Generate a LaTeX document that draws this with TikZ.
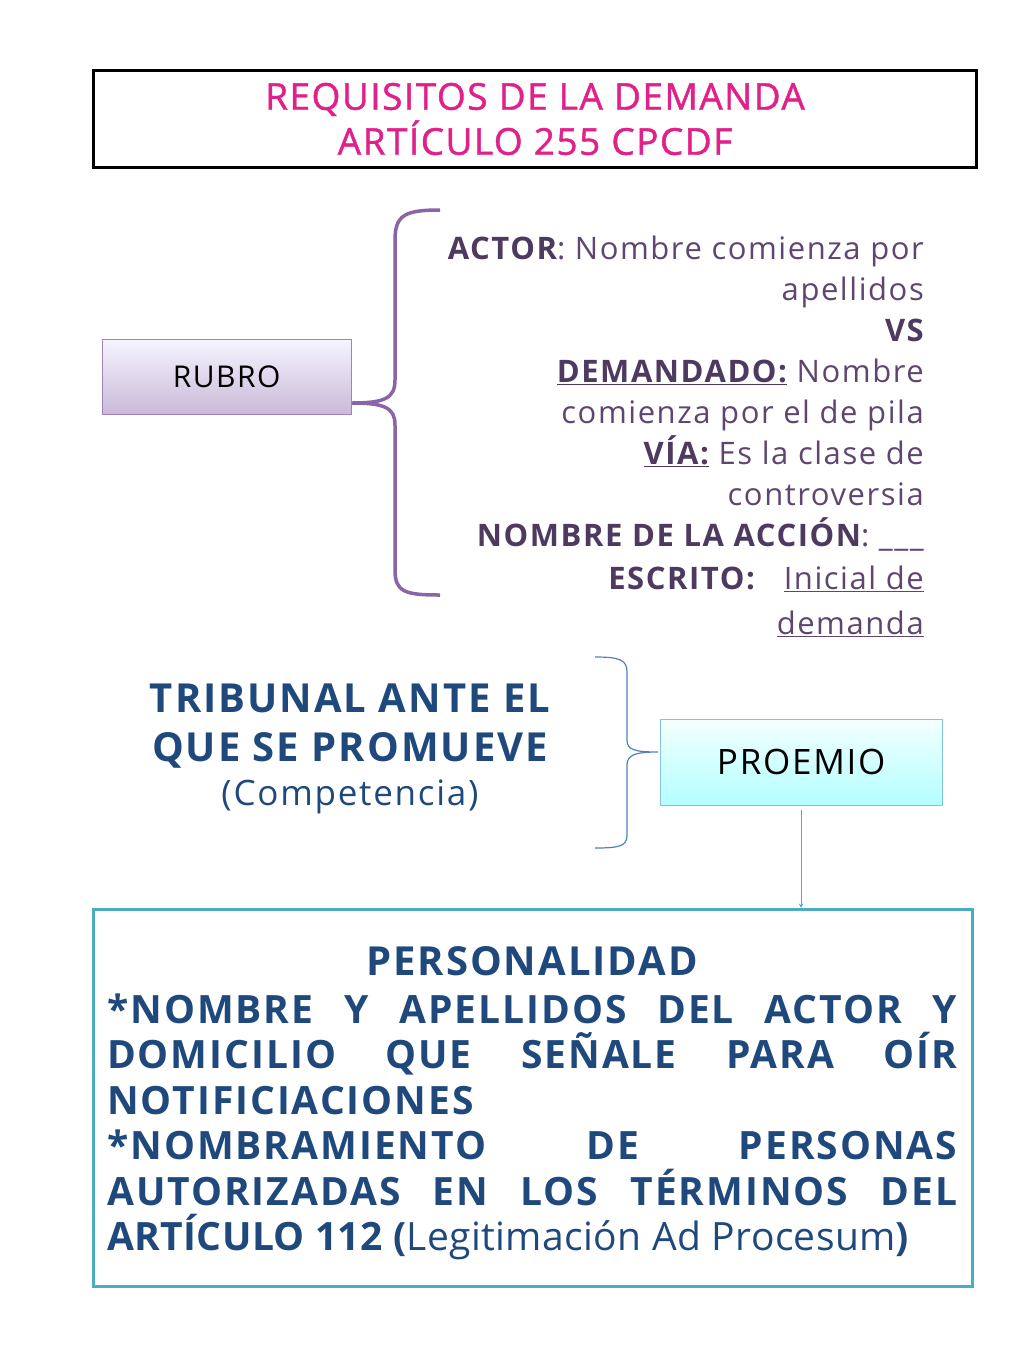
\documentclass[tikz,border=0pt]{standalone}
\usepackage{fontspec}
\setmainfont{Open Sans}[LetterSpace=5]
\newfontfamily\titlefont{Open Sans}[LetterSpace=4,FakeBold=1.2]
\definecolor{mag}{HTML}{E0218A}
\definecolor{purp}{HTML}{5E4670}
\definecolor{purpd}{HTML}{4E3A60}
\definecolor{brpurp}{HTML}{8A64A8}
\definecolor{dblue}{HTML}{1F497D}
\definecolor{lblue}{HTML}{4F81BD}
\definecolor{aqua}{HTML}{4BACC6}
\begin{document}
\begin{tikzpicture}[x=1pt,y=-1pt,
  rt/.style={anchor=base east,text=purp,font=\fontsize{31}{33}\selectfont,inner sep=0},
  bl/.style={anchor=base west,text=dblue,font=\fontsize{39}{40}\selectfont\bfseries,inner sep=0}]
\useasboundingbox (0,0) rectangle (1024,1365);
\node[draw=black,line width=3pt,minimum width=883pt,minimum height=97pt,anchor=north west,
  text=mag,align=center,font=\titlefont\fontsize{37}{45}\selectfont] (title) at (92,69)
  {REQUISITOS DE LA DEMANDA\\ARTÍCULO 255 CPCDF};
\node[draw=brpurp!80,top color=purple!5!blue!4,bottom color=brpurp!45,minimum width=249pt,minimum height=75pt,
  anchor=north west,font=\fontsize{30}{33}\selectfont] (rubro) at (102,339) {RUBRO};
\draw[brpurp,line width=3.5pt] (440,210) .. controls (405,210) and (395,215) .. (395,240) -- (395,380)
  .. controls (395,398) and (385,403) .. (352,403) .. controls (385,403) and (395,408) .. (395,425)
  -- (395,570) .. controls (395,592) and (405,595) .. (440,595);
\node[rt] (l1) at (924,259) {\textbf{\color{purpd}ACTOR}: Nombre comienza por};
\node[rt] (l2) at (924,300) {apellidos};
\node[rt] (l3) at (924,341) {\textbf{\color{purpd}VS}};
\node[rt] (l4) at (924,382) {\textbf{\color{purpd}\underline{DEMANDADO:}} Nombre};
\node[rt] (l5) at (924,423) {comienza por el de pila};
\node[rt] (l6) at (924,464) {\textbf{\color{purpd}\underline{VÍA:}} Es la clase de};
\node[rt] (l7) at (924,505) {controversia};
\node[rt] (l8) at (924,546) {\textbf{\color{purpd}NOMBRE DE LA ACCIÓN}: \_\_\_};
\node[rt] (l9) at (924,589) {\textbf{\color{purpd}ESCRITO:}\ \ \ \underline{Inicial de}};
\node[rt] (l10) at (924,634) {\underline{demanda}};
\node[text=dblue,align=center,font=\fontsize{40}{49}\selectfont\bfseries] (trib) at (350,726)
  {TRIBUNAL ANTE EL\\QUE SE PROMUEVE};
\node[text=dblue,font=\fontsize{35}{36}\selectfont] (comp) at (350,797) {(Competencia)};
\draw[lblue,line width=1.2pt] (595,657) .. controls (620,657) and (627,660) .. (627,672) -- (627,740)
  .. controls (627,750) and (635,752) .. (658,752) .. controls (635,752) and (627,755) .. (627,765)
  -- (627,835) .. controls (627,846) and (620,848) .. (595,848);
\node[draw=aqua!70,top color=cyan!4,bottom color=cyan!30,minimum width=282pt,minimum height=86pt,
  anchor=north west,font=\fontsize{35}{36}\selectfont] (proe) at (660,719) {PROEMIO};
\node[draw=aqua,line width=3pt,minimum width=879pt,minimum height=377pt,anchor=north west] (big) at (92,908) {};
\draw[aqua,line width=1pt,-stealth] (801,810) -- (big.north -| 801,810);
\node[text=dblue,font=\fontsize{40}{40}\selectfont\bfseries] (pers) at (532,961) {PERSONALIDAD};
\node[bl] (p1) at (107,1023) {\hbox to 850pt{*NOMBRE\hfill Y\hfill APELLIDOS\hfill DEL\hfill ACTOR\hfill Y}};
\node[bl] (p2) at (107,1068) {\hbox to 850pt{DOMICILIO\hfill QUE\hfill SEÑALE\hfill PARA\hfill OÍR}};
\node[bl] (p3) at (107,1114) {NOTIFICIACIONES};
\node[bl] (p4) at (107,1159) {\hbox to 850pt{*NOMBRAMIENTO\hfill DE\hfill PERSONAS}};
\node[bl] (p5) at (107,1205) {\hbox to 850pt{AUTORIZADAS\hfill EN\hfill LOS\hfill TÉRMINOS\hfill DEL}};
\node[bl] (p6) at (107,1250) {\addfontfeature{LetterSpace=1}ARTÍCULO 112 (\mdseries Legitimación Ad Procesum\bfseries)};
\end{tikzpicture}
\end{document}
